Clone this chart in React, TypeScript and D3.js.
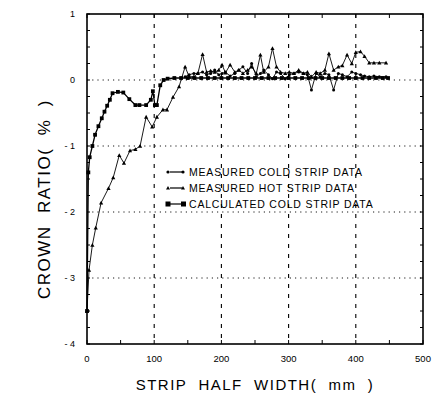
import React from "react";
import * as d3 from "d3";

const xTicks = [0, 100, 200, 300, 400, 500];
const yTicks = [1, 0, -1, -2, -3, -4];

const calcX = [0, 2, 4, 8, 12, 17, 22, 26, 30, 34, 38, 46, 54, 63, 72, 78, 88, 95, 98, 101, 104, 109, 114, 120, 130, 140, 150, 160, 170, 180, 190, 200, 210, 220, 230, 240, 250, 260, 270, 280, 290, 300, 310, 320, 330, 340, 350, 360, 370, 380, 390, 400, 410, 420, 430, 440, 448];
const calcY = [-3.5, -1.4, -1.17, -1.0, -0.83, -0.7, -0.58, -0.48, -0.39, -0.3, -0.2, -0.18, -0.19, -0.29, -0.38, -0.38, -0.38, -0.3, -0.17, -0.38, -0.38, -0.08, 0.0, 0.02, 0.03, 0.03, 0.03, 0.03, 0.03, 0.03, 0.03, 0.03, 0.03, 0.03, 0.03, 0.03, 0.03, 0.03, 0.03, 0.03, 0.03, 0.03, 0.03, 0.03, 0.03, 0.03, 0.03, 0.03, 0.03, 0.03, 0.03, 0.03, 0.03, 0.03, 0.03, 0.03, 0.03];

const hotX = [0, 3, 8, 13, 21, 32, 39, 48, 55, 64, 72, 79, 88, 97, 104, 113, 119, 128, 137, 146, 152, 159, 165, 172, 178, 184, 190, 196, 201, 206, 213, 220, 226, 232, 239, 245, 252, 258, 263, 270, 276, 282, 288, 295, 301, 308, 315, 322, 328, 334, 341, 347, 354, 360, 367, 374, 380, 387, 394, 400, 407, 413, 420, 427, 435, 445];
const hotY = [-3.5, -2.88, -2.5, -2.24, -1.86, -1.64, -1.48, -1.14, -1.26, -1.07, -1.05, -1.0, -0.56, -0.71, -0.56, -0.45, -0.45, -0.26, -0.1, 0.2, 0.05, 0.05, 0.1, 0.39, 0.12, 0.14, 0.12, 0.15, 0.23, 0.11, 0.23, 0.12, 0.15, 0.1, 0.15, 0.2, 0.1, 0.38, 0.12, 0.2, 0.48, 0.2, 0.12, 0.1, 0.12, 0.1, 0.15, 0.1, 0.12, 0.05, 0.12, 0.1, 0.15, 0.4, 0.15, 0.2, 0.22, 0.38, 0.25, 0.42, 0.43, 0.36, 0.26, 0.26, 0.26, 0.26];

const coldX = [146, 152, 159, 165, 172, 178, 184, 190, 196, 201, 206, 213, 220, 226, 232, 239, 245, 252, 258, 263, 270, 276, 282, 288, 295, 301, 308, 315, 322, 328, 334, 341, 347, 354, 360, 367, 374, 380, 387, 394, 400, 407, 413, 420, 427, 435, 445];
const coldY = [0.05, 0.08, 0.1, 0.1, 0.12, 0.08, 0.1, 0.15, 0.08, 0.1, 0.12, 0.06, 0.1, 0.15, 0.2, 0.1, 0.25, 0.05, 0.1, 0.15, 0.08, 0.02, 0.12, 0.1, 0.02, 0.08, 0.1, 0.12, 0.1, 0.08, -0.15, 0.1, 0.05, 0.1, 0.08, -0.15, 0.1, 0.08, 0.05, 0.12, 0.1, 0.08, 0.06, 0.05, 0.06, 0.05, 0.05];

const legendLabels = ["MEASURED COLD STRIP DATA", "MEASURED HOT STRIP DATA", "CALCULATED COLD STRIP DATA"];

const W = 434, H = 402;
const L = 87, R = 423, T = 14, B = 344;

export default function App() {
  const x = d3.scaleLinear().domain([0, 500]).range([L, R]);
  const y = d3.scaleLinear().domain([-4, 1]).range([B, T]);
  const line = d3.line<[number, number]>().x(d => x(d[0])).y(d => y(d[1]));
  const calc: [number, number][] = calcX.map((v, i) => [v, calcY[i]]);
  const hot: [number, number][] = hotX.map((v, i) => [v, hotY[i]]);
  const cold: [number, number][] = coldX.map((v, i) => [v, coldY[i]]);
  const font = "'Liberation Sans', Arial, sans-serif";
  const minorX = d3.range(0, 501, 50);
  const minorY = d3.range(-4, 1.01, 0.25);
  const tri = (cx: number, cy: number, s = 2.1) =>
    `M${cx},${cy - s} L${cx + s},${cy + s * 0.8} L${cx - s},${cy + s * 0.8} Z`;
  return (
    <svg width={W} height={H} style={{ position: "absolute", left: 0, top: 0, background: "#fff" }}>
      <rect x={0} y={0} width={W} height={H} fill="#fff" />
      {[100, 200, 300, 400].map(v => (
        <line key={"gx" + v} x1={x(v)} x2={x(v)} y1={T} y2={B} stroke="#000" strokeWidth={1.1} strokeDasharray="4,6" />
      ))}
      {[0, -1, -2, -3].map(v => (
        <line key={"gy" + v} x1={L} x2={R} y1={y(v)} y2={y(v)} stroke="#000" strokeWidth={0.9} strokeDasharray="1.2,4" />
      ))}
      {minorX.map(v => (
        <g key={"mx" + v}>
          <line x1={x(v)} x2={x(v)} y1={B} y2={B - 4} stroke="#000" strokeWidth={1} />
          <line x1={x(v)} x2={x(v)} y1={T} y2={T + 4} stroke="#000" strokeWidth={1} />
        </g>
      ))}
      {minorY.map(v => (
        <g key={"my" + v}>
          <line x1={L} x2={L + 3} y1={y(v)} y2={y(v)} stroke="#000" strokeWidth={1} />
          <line x1={R} x2={R - 3} y1={y(v)} y2={y(v)} stroke="#000" strokeWidth={1} />
        </g>
      ))}
      <rect x={L} y={T} width={R - L} height={B - T} fill="none" stroke="#000" strokeWidth={1.6} />
      <path d={line(hot) || ""} fill="none" stroke="#000" strokeWidth={0.9} />
      <path d={line(cold) || ""} fill="none" stroke="#000" strokeWidth={0.9} />
      <path d={line(calc) || ""} fill="none" stroke="#000" strokeWidth={1.3} />
      {hot.map((d, i) => (
        <path key={"h" + i} d={tri(x(d[0]), y(d[1]))} fill="#000" />
      ))}
      {cold.map((d, i) => (
        <circle key={"c" + i} cx={x(d[0])} cy={y(d[1])} r={1.5} fill="#000" />
      ))}
      {calc.map((d, i) => (
        <rect key={"k" + i} x={x(d[0]) - 1.9} y={y(d[1]) - 1.9} width={3.8} height={3.8} fill="#000" />
      ))}
      {yTicks.map(v => (
        <text key={"yt" + v} x={75} y={y(v) + 3} textAnchor="end" fontFamily={font} fontSize={9}>
          {v < 0 ? "- " + Math.abs(v) : String(v)}
        </text>
      ))}
      {xTicks.map(v => (
        <text key={"xt" + v} x={x(v)} y={362} textAnchor="middle" fontFamily={font} fontSize={9.5}>
          {v}
        </text>
      ))}
      {legendLabels.map((lab, i) => {
        const ly = 172 + i * 16;
        return (
          <g key={"lg" + i}>
            <line x1={170} x2={182} y1={ly} y2={ly} stroke="#000" strokeWidth={1.2} />
            {i === 0 && (<><circle cx={168} cy={ly} r={1.6} /><circle cx={183} cy={ly} r={1.6} /></>)}
            {i === 1 && (<><path d={tri(168, ly, 2)} /><path d={tri(183, ly, 2)} /></>)}
            {i === 2 && (<><rect x={165.5} y={ly - 2.5} width={5} height={5} /><rect x={181} y={ly - 2.5} width={5} height={5} /></>)}
            <text x={189} y={ly + 4} fontFamily={font} fontSize={10.5} letterSpacing={0.8}>{lab}</text>
          </g>
        );
      })}
      <text x={255} y={390} textAnchor="middle" fontFamily={font} fontSize={15} letterSpacing={1.5} style={{ whiteSpace: "pre" }}>
        {"STRIP  HALF  WIDTH(  mm  )"}
      </text>
      <text transform={`translate(50,${(T + B) / 2 + 20}) rotate(-90)`} textAnchor="middle" fontFamily={font} fontSize={17} letterSpacing={1.5} style={{ whiteSpace: "pre" }}>
        {"CROWN  RATIO(  %  )"}
      </text>
    </svg>
  );
}
